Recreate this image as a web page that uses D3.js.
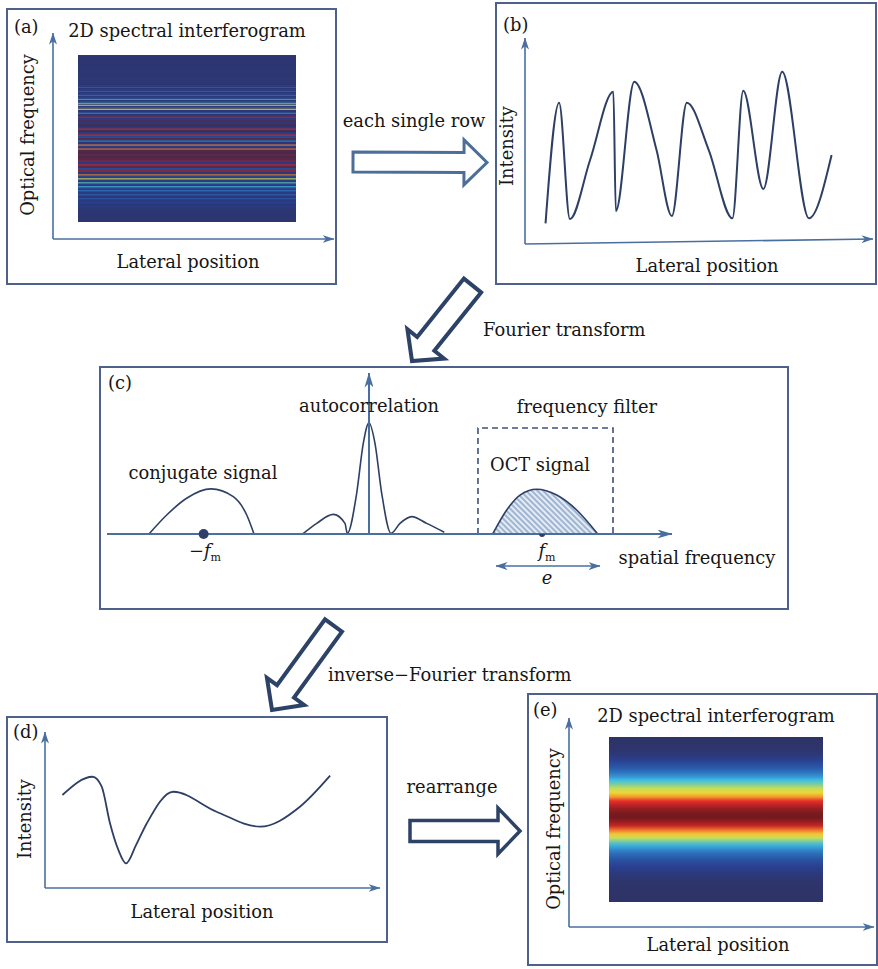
<!DOCTYPE html>
<html>
<head>
<meta charset="utf-8">
<script src="https://cdn.jsdelivr.net/npm/d3@7"></script>
<style>
body { margin: 0; background: #fff; }
text { font-family: "DejaVu Serif", serif; fill: #161616; }
</style>
</head>
<body>
<div id="chart"></div>
<script>
// (a) interference fringes, one value per row, top to bottom (0 = background, 1 = peak)
const aRows = [0.02,0.02,0.02,0.02,0.02,0.02,0.02,0.03,0.03,0.03,0.04,0.04,0.05,
    0.06,0.04,0.08,
    0.2,0.08,0.22,0.1,0.25,
    0.12,0.35,0.15,0.4,
    0.5,0.2,0.6,
    0.05,0.3,0.05,0.85,0.1,0.95,0.05,
    1.0,0.05,0.82,1.0,0.1,0.8,
    0.2,0.95,0.3,0.05,0.7,0.1,0.72,
    0.98,1.0,0.95,1.0,0.97,0.9,
    0.1,0.82,0.95,0.2,0.85,0.05,
    0.7,0.15,0.55,
    0.1,0.42,0.12,0.38,0.15,
    0.28,0.08,0.24,0.06,0.2,
    0.08,0.12,0.05,0.08,0.03,0.04,0.02,0.02,0.02,0.02,0.02];

// (e) filtered, smooth envelope, one value per row
const eRows = [0,0,0.01,0.02,0.05,0.1,0.15,0.2,0.26,0.32,0.38,0.45,0.53,0.6,0.68,0.78,0.86,0.93,0.98,0.99,
    0.93,0.84,0.72,0.62,0.53,0.42,0.35,0.29,0.24,0.19,0.14,0.1,0.07,0.04,0.02,0.01,0,0,0,0];

// (b) one row of the interferogram
const bLateral   = [0.59,0.98,1.29,1.87,2.54,2.61,3.14,3.78,4.22,4.65,5.28,5.96,6.27,6.85,7.39,8.16,8.81];
const bIntensity = [1.00,6.86,1.21,4.08,7.39,1.60,7.88,4.56,1.36,6.86,4.56,1.25,7.44,2.67,8.36,1.25,4.32];

// (c) spectrum
const conjFreq = [7.43,10.57,14.09,18.41,22.35,24.73,26.02];
const conjAmp  = [0,1.18,2.22,2.80,2.32,1.18,0];
const autoFreq = [34.64,37.12,40.05,42.12,42.53,44.19,45.36,46.37,47.43,48.62,50.27,51.86,53.93,56.58,59.70];
const autoAmp  = [0,0.66,1.22,0.66,0.04,2.53,5.63,6.91,5.63,2.53,0.04,0.66,1.08,0.66,0.11];
const octFreq  = [68.27,70.74,73.10,76.05,79.59,83.13,86.85];
const octAmp   = [0,1.49,2.42,2.78,2.42,1.49,0];
const autoCenter = 46.37;
const fm = [17.1, 77.0];          // -f_m, f_m
const filterBand = [65.66, 89.56]; // frequency filter edges
const filterHeight = 6.58;
const eBand = [68.85, 87.26];

// (d) after inverse transform
const dLateral   = [0.52,1.42,1.69,1.94,2.19,2.42,2.72,3.04,3.83,5.12,6.42,7.61,8.51];
const dIntensity = [5.96,7.13,6.51,4.15,2.44,1.58,2.76,4.15,6.17,4.89,3.93,5.21,7.20];

const frameColor = "#4d6189";
const axisColor = "#4a6f9f";
const curveColor = "#2e3f65";
const arrowDark = "#2c4266";
const arrowLight = "#4d6e99";

const jet = d3.scaleLinear()
    .domain([0, 0.1, 0.22, 0.32, 0.38, 0.48, 0.58, 0.68, 0.78, 0.9, 1])
    .range(["#2e3468","#2a3f8f","#2a5fae","#3590d0","#3fc0e2","#9fd27a","#ece538","#f39a2e","#e7302a","#a41e22","#6e1a1e"])
    .clamp(true);

const svg = d3.select("#chart")
    .append("svg")
    .attr("width", 878)
    .attr("height", 969);

svg.append("rect").attr("width", 878).attr("height", 969).attr("fill", "#fff");

const defs = svg.append("defs");

function addHead(id, len, wid, color) {
    defs.append("marker")
        .attr("id", id)
        .attr("viewBox", `0 ${-wid / 2} ${len} ${wid}`)
        .attr("refX", len - 0.5)
        .attr("refY", 0)
        .attr("markerUnits", "userSpaceOnUse")
        .attr("markerWidth", len)
        .attr("markerHeight", wid)
        .attr("orient", "auto-start-reverse")
        .append("path")
        .attr("d", `M0,${-wid / 2}L${len},0L0,${wid / 2}L${len * 0.28},0Z`)
        .attr("fill", color);
}
addHead("ax", 12, 8, axisColor);
addHead("axc", 15, 9, axisColor);

const hatch = defs.append("pattern")
    .attr("id", "hatch")
    .attr("patternUnits", "userSpaceOnUse")
    .attr("width", 4).attr("height", 4)
    .attr("patternTransform", "rotate(-45)");
hatch.append("rect").attr("width", 4).attr("height", 4).attr("fill", "#e4ebf4");
hatch.append("line").attr("x1", 1).attr("y1", 0).attr("x2", 1).attr("y2", 4)
    .attr("stroke", "#8ea8c9").attr("stroke-width", 1.6);

// font size so that "Lateral position" has its width in the picture
const probe = svg.append("text").style("font-size", "20px").text("Lateral position");
const fs = 20 * 143 / probe.node().getComputedTextLength();
probe.remove();

function label(x, y, txt, opts = {}) {
    const t = svg.append("text")
        .attr("x", x).attr("y", y)
        .attr("text-anchor", opts.anchor || "middle")
        .style("font-size", (opts.size || fs) + "px")
        .text(txt);
    if (opts.rotate) {
        t.attr("x", 0).attr("y", 0).attr("transform", `translate(${x},${y}) rotate(-90)`);
    }
    return t;
}

function frame(x, y, w, h) {
    svg.append("rect").attr("x", x).attr("y", y).attr("width", w).attr("height", h)
        .attr("fill", "none").attr("stroke", frameColor).attr("stroke-width", 2);
}

function axes(x0, y0, x1, y1, yTop, head, w) {
    svg.append("line").attr("x1", x0).attr("y1", y0).attr("x2", x0).attr("y2", yTop)
        .attr("stroke", axisColor).attr("stroke-width", w).attr("marker-end", `url(#${head})`);
    svg.append("line").attr("x1", x0).attr("y1", y0).attr("x2", x1).attr("y2", y1)
        .attr("stroke", axisColor).attr("stroke-width", w).attr("marker-end", `url(#${head})`);
}

function hollowArrow(x0, y0, x1, y1, sw, hw, hl, color, lw) {
    const L = Math.hypot(x1 - x0, y1 - y0);
    const ang = Math.atan2(y1 - y0, x1 - x0) * 180 / Math.PI;
    const pts = [[0, -sw / 2], [L - hl, -sw / 2], [L - hl, -hw / 2], [L, 0], [L - hl, hw / 2], [L - hl, sw / 2], [0, sw / 2]];
    svg.append("polygon")
        .attr("points", pts.join(" "))
        .attr("transform", `translate(${x0},${y0}) rotate(${ang})`)
        .attr("fill", "#fff")
        .attr("stroke", color)
        .attr("stroke-width", lw);
}

// ---------- (a) ----------
frame(7, 9, 329, 275);
const aY = d3.scaleBand().domain(d3.range(aRows.length)).range([55, 222]);
// dark background, thin fringes on top of it
svg.append("rect").attr("x", 78).attr("y", 55).attr("width", 218).attr("height", 167)
    .attr("fill", jet(0.03));
svg.append("g").selectAll("rect")
    .data(aRows)
    .join("rect")
    .attr("x", 78)
    .attr("width", 218)
    .attr("y", (d, i) => aY(i))
    .attr("height", aY.bandwidth() * 0.6)
    .attr("fill", d => jet(d))
    .attr("opacity", 0.85);
axes(53, 239, 334, 239, 33, "ax", 1.6);
label(14, 33, "(a)", { anchor: "start" });
label(187, 37, "2D spectral interferogram");
label(34, 135, "Optical frequency", { rotate: true });
label(188, 268, "Lateral position");

// ---------- (b) ----------
frame(496, 3, 380, 281);
const bx = d3.scaleLinear().domain([0, 10]).range([525, 873]);
const by = d3.scaleLinear().domain([0, 10]).range([244, 38]);
axes(bx(0), by(0), bx(10), by(0) - 5, by(10), "ax", 1.6);
svg.append("path")
    .datum(d3.zip(bLateral, bIntensity))
    .attr("d", d3.line().x(d => bx(d[0])).y(d => by(d[1])).curve(d3.curveMonotoneX))
    .attr("fill", "none").attr("stroke", curveColor).attr("stroke-width", 2);
label(503, 31, "(b)", { anchor: "start" });
label(513, 146, "Intensity", { rotate: true });
label(707, 272, "Lateral position");

// ---------- arrows between panels ----------
hollowArrow(353, 162, 487, 162.5, 20, 45, 23, arrowLight, 3);
label(414, 127, "each single row");
hollowArrow(472.5, 285.5, 412, 361, 22, 47, 22, arrowDark, 4);
label(483, 336, "Fourier transform", { anchor: "start" });

// ---------- (c) ----------
frame(100, 367, 688, 242);
const cx = d3.scaleLinear().domain([0, 100]).range([107, 672]);
const cy = d3.scaleLinear().domain([0, 10]).range([534, 373]);
const cLine = d3.line().x(d => cx(d[0])).y(d => cy(d[1])).curve(d3.curveMonotoneX);

// OCT signal, hatched
svg.append("path")
    .datum(d3.zip(octFreq, octAmp))
    .attr("d", cLine)
    .attr("fill", "url(#hatch)").attr("stroke", curveColor).attr("stroke-width", 1.6);

// frequency filter window
svg.append("path")
    .attr("d", `M${cx(filterBand[0])},${cy(0)}V${cy(filterHeight)}H${cx(filterBand[1])}V${cy(0)}`)
    .attr("fill", "none").attr("stroke", "#3d5078").attr("stroke-width", 1.6)
    .attr("stroke-dasharray", "6,4");

svg.append("path")
    .datum(d3.zip(conjFreq, conjAmp))
    .attr("d", cLine)
    .attr("fill", "none").attr("stroke", curveColor).attr("stroke-width", 1.6);
svg.append("path")
    .datum(d3.zip(autoFreq, autoAmp))
    .attr("d", cLine)
    .attr("fill", "none").attr("stroke", curveColor).attr("stroke-width", 1.6);

// spatial-frequency axis and central arrow
svg.append("line")
    .attr("x1", cx(autoCenter)).attr("y1", cy(0)).attr("x2", cx(autoCenter)).attr("y2", cy(10))
    .attr("stroke", axisColor).attr("stroke-width", 2).attr("marker-end", "url(#axc)");
svg.append("line")
    .attr("x1", cx(0)).attr("y1", cy(0)).attr("x2", cx(100)).attr("y2", cy(0))
    .attr("stroke", axisColor).attr("stroke-width", 2).attr("marker-end", "url(#axc)");

svg.append("circle").attr("cx", cx(fm[0])).attr("cy", cy(0)).attr("r", 5).attr("fill", "#2f4068");
svg.append("path")
    .attr("d", `M${cx(fm[1]) - 3},${cy(0)}A3,3 0 0 0 ${cx(fm[1]) + 3},${cy(0)}Z`)
    .attr("fill", "#2f4068");

// bandwidth e
svg.append("line")
    .attr("x1", cx(eBand[0])).attr("y1", cy(-1.99)).attr("x2", cx(eBand[1])).attr("y2", cy(-1.99))
    .attr("stroke", axisColor).attr("stroke-width", 1.6)
    .attr("marker-start", "url(#ax)").attr("marker-end", "url(#ax)");

label(108, 389, "(c)", { anchor: "start" });
label(369, 412, "autocorrelation");
label(203, 479, "conjugate signal");
label(587, 413, "frequency filter");
label(540, 471, "OCT signal");
label(697, 564, "spatial frequency");

const fmNeg = svg.append("text").attr("x", 205).attr("y", 557).attr("text-anchor", "middle")
    .style("font-size", fs + "px");
fmNeg.append("tspan").text("−");
fmNeg.append("tspan").style("font-style", "italic").text("f");
fmNeg.append("tspan").attr("dy", 4).style("font-size", (fs * 0.62) + "px").text("m");

const fmPos = svg.append("text").attr("x", 547).attr("y", 557).attr("text-anchor", "middle")
    .style("font-size", fs + "px");
fmPos.append("tspan").style("font-style", "italic").text("f");
fmPos.append("tspan").attr("dy", 4).style("font-size", (fs * 0.62) + "px").text("m");

label(547, 584, "e").style("font-style", "italic");

// ---------- arrow to (d) ----------
hollowArrow(333.5, 625.5, 272, 710, 21, 46, 23, arrowDark, 4);
label(328, 681, "inverse−Fourier transform", { anchor: "start" });

// ---------- (d) ----------
frame(7, 717, 380, 225);
const dx = d3.scaleLinear().domain([0, 10]).range([45, 380]);
const dy = d3.scaleLinear().domain([0, 10]).range([888, 732]);
axes(dx(0), dy(0), dx(10), dy(0), dy(10), "ax", 1.6);
svg.append("path")
    .datum(d3.zip(dLateral, dIntensity))
    .attr("d", d3.line().x(d => dx(d[0])).y(d => dy(d[1])).curve(d3.curveMonotoneX))
    .attr("fill", "none").attr("stroke", curveColor).attr("stroke-width", 1.8);
label(13, 738, "(d)", { anchor: "start" });
label(31, 819, "Intensity", { rotate: true });
label(202, 918, "Lateral position");

// ---------- rearrange ----------
hollowArrow(410, 831, 520, 831, 21, 46, 22, arrowDark, 3.5);
label(452, 793, "rearrange");

// ---------- (e) ----------
frame(528, 694, 349, 271);
const eGrad = defs.append("linearGradient")
    .attr("id", "egrad")
    .attr("x1", 0).attr("y1", 0).attr("x2", 0).attr("y2", 1);
const eOff = d3.scaleLinear().domain([0, eRows.length]).range([0, 1]);
eGrad.selectAll("stop")
    .data(eRows)
    .join("stop")
    .attr("offset", (d, i) => eOff(i + 0.5))
    .attr("stop-color", d => jet(d));
svg.append("rect").attr("x", 609).attr("y", 737).attr("width", 214).attr("height", 165)
    .attr("fill", "url(#egrad)");
axes(569, 927, 874, 927, 718, "ax", 1.6);
label(533, 716, "(e)", { anchor: "start" });
label(716, 722, "2D spectral interferogram");
label(560, 829, "Optical frequency", { rotate: true });
label(718, 951, "Lateral position");
</script>
</body>
</html>
